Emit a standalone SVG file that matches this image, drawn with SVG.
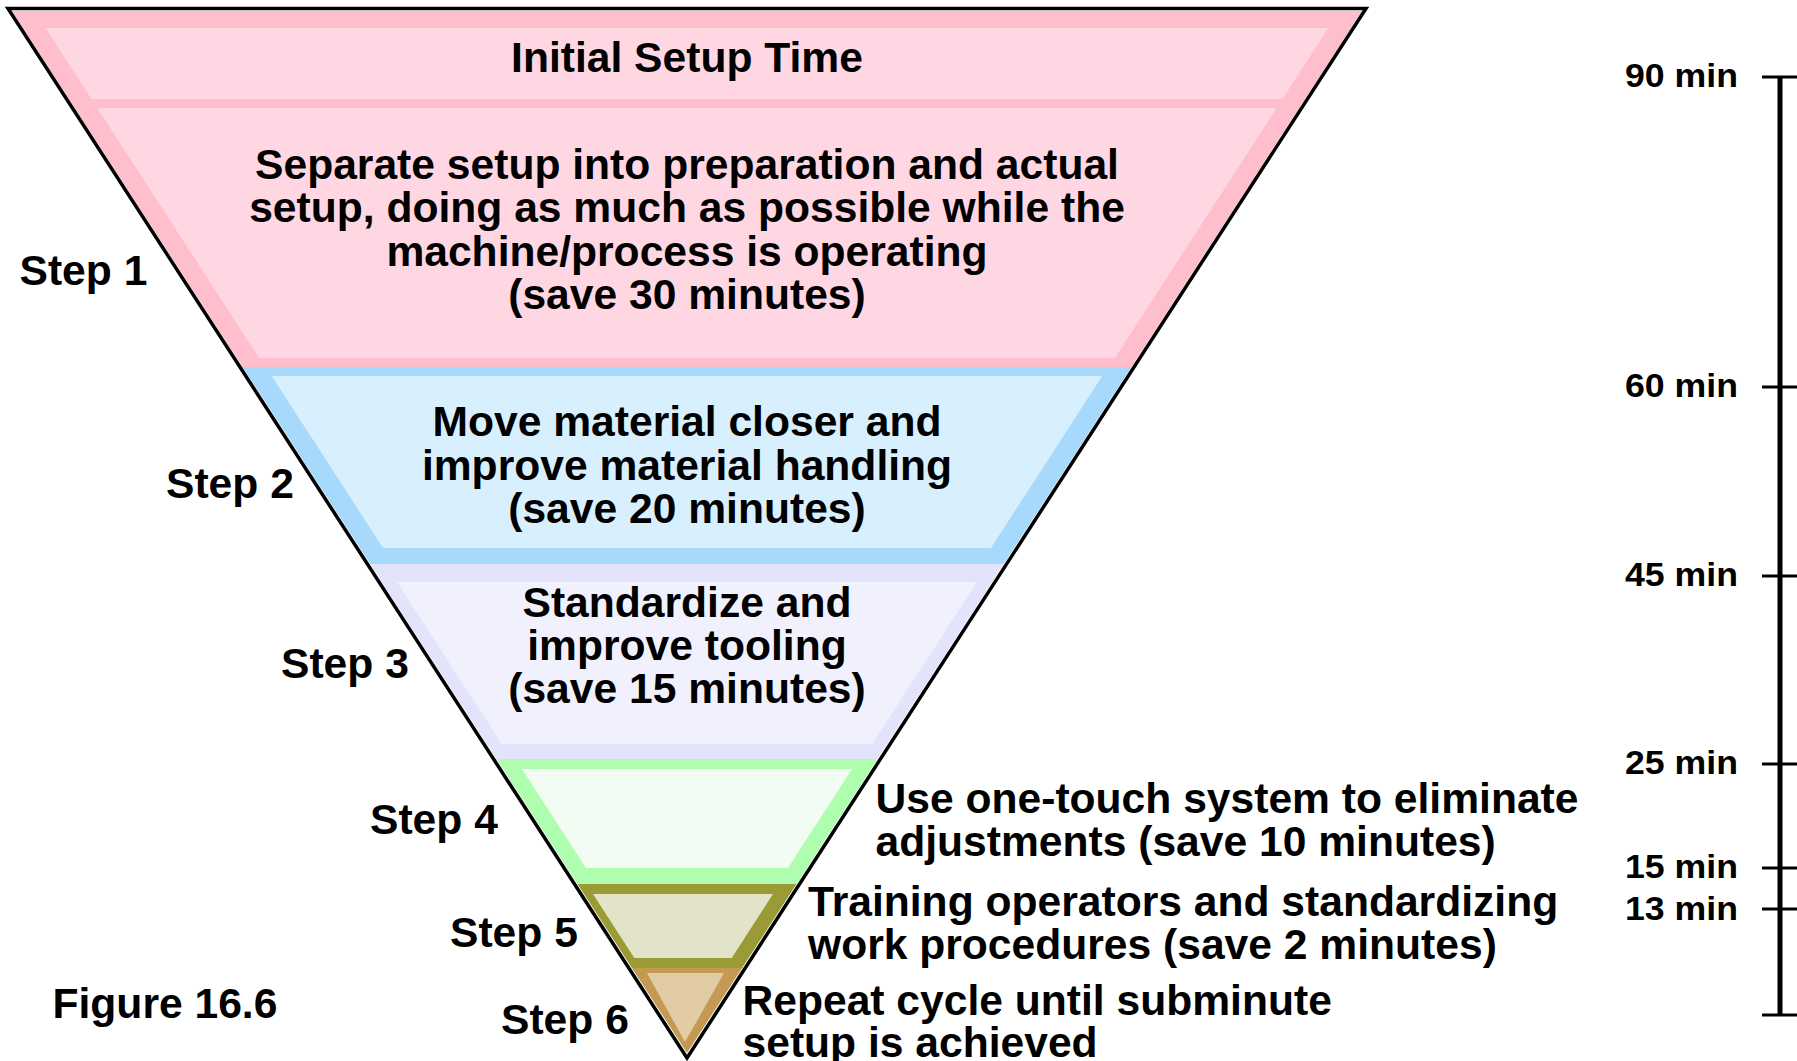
<svg xmlns="http://www.w3.org/2000/svg" width="1797" height="1061" viewBox="0 0 1797 1061">
  <style>
    text { font-family: "Liberation Sans", Arial, Helvetica, sans-serif; font-weight: bold; font-size: 42.6px; fill: #000; }
    .c { text-anchor: middle; }
    .min { font-size: 34px; }
    .tick { stroke: #000; stroke-width: 3; }
  </style>
  <defs>
    <!-- coloured interior of the inverted triangle, just inside the black outline -->
    <clipPath id="funnel">
      <polygon points="12,11 1362,11 687,1053"/>
    </clipPath>
  </defs>

  <rect width="1797" height="1061" fill="#fff"/>

  <!-- outer coloured bands -->
  <g clip-path="url(#funnel)">
    <rect id="band-1-outer" x="0" y="0" width="1400" height="367" fill="#FFBECC"/>
    <rect id="band-2-outer" x="0" y="367" width="1400" height="197" fill="#A6D9FB"/>
    <rect id="band-3-outer" x="0" y="564" width="1400" height="195" fill="#E3E3FB"/>
    <rect id="band-4-outer" x="0" y="759" width="1400" height="125" fill="#AFFDAF"/>
    <rect id="band-5-outer" x="0" y="884" width="1400" height="84" fill="#9B9B35"/>
    <rect id="band-6-outer" x="0" y="968" width="1400" height="100" fill="#C49A52"/>
  </g>

  <!-- Step 1: initial setup + separation -->
  <g id="step1">
    <polygon points="45.6,28 1328.4,28 1282.5,99 91.5,99" fill="#FFD7E3"/>
    <polygon points="97.3,108 1276.7,108 1114.9,358 259.1,358" fill="#FFD7E3"/>
    <text class="c" x="687" y="71.5">Initial Setup Time</text>
    <text class="c" x="687" y="178.5">Separate setup into preparation and actual</text>
    <text class="c" x="687" y="222">setup, doing as much as possible while the</text>
    <text class="c" x="687" y="265.5">machine/process is operating</text>
    <text class="c" x="687" y="309">(save 30 minutes)</text>
    <text x="19.5" y="285">Step 1</text>
  </g>

  <!-- Step 2: material handling -->
  <g id="step2">
    <polygon points="271.7,376 1102.3,376 991,548 383,548" fill="#D8EFFD"/>
    <text class="c" x="687" y="436">Move material closer and</text>
    <text class="c" x="687" y="479.5">improve material handling</text>
    <text class="c" x="687" y="523">(save 20 minutes)</text>
    <text x="166" y="497.5">Step 2</text>
  </g>

  <!-- Step 3: tooling -->
  <g id="step3">
    <polygon points="397,582 977,582 872.2,744 501.8,744" fill="#F1F1FD"/>
    <text class="c" x="687" y="616.5">Standardize and</text>
    <text class="c" x="687" y="660">improve tooling</text>
    <text class="c" x="687" y="703">(save 15 minutes)</text>
    <text x="281" y="677.5">Step 3</text>
  </g>

  <!-- Step 4: one-touch system -->
  <g id="step4">
    <polygon points="522,769 852,769 788,868 586,868" fill="#F2FCF2"/>
    <text x="875.5" y="812.5">Use one-touch system to eliminate</text>
    <text x="875.5" y="856">adjustments (save 10 minutes)</text>
    <text x="370" y="833.5">Step 4</text>
  </g>

  <!-- Step 5: training -->
  <g id="step5">
    <polygon points="593,894 773,894 731.7,958 634.3,958" fill="#E3E3CA"/>
    <text x="808" y="916">Training operators and standardizing</text>
    <text x="808" y="959">work procedures (save 2 minutes)</text>
    <text x="450" y="946.5">Step 5</text>
  </g>

  <!-- Step 6: repeat cycle -->
  <g id="step6">
    <polygon points="647,973 724,973 685,1042" fill="#E2CCA6"/>
    <text x="742.5" y="1015">Repeat cycle until subminute</text>
    <text x="742.5" y="1057">setup is achieved</text>
    <text x="501" y="1033.5">Step 6</text>
  </g>

  <!-- funnel outline -->
  <g id="outline">
    <polygon points="8,8.5 1366,8.5 687,1058" fill="none" stroke="#000" stroke-width="3.5" stroke-linejoin="miter"/>
  </g>

  <text id="caption" x="52.5" y="1017.5">Figure 16.6</text>

  <!-- time scale -->
  <g id="scale">
    <line x1="1780" y1="76" x2="1780" y2="1016" stroke="#000" stroke-width="5"/>
    <line class="tick" x1="1762" y1="77" x2="1797" y2="77"/>
    <line class="tick" x1="1762" y1="387" x2="1797" y2="387"/>
    <line class="tick" x1="1762" y1="576" x2="1797" y2="576"/>
    <line class="tick" x1="1762" y1="764" x2="1797" y2="764"/>
    <line class="tick" x1="1762" y1="868" x2="1797" y2="868"/>
    <line class="tick" x1="1762" y1="909" x2="1797" y2="909"/>
    <line class="tick" x1="1762" y1="1015" x2="1797" y2="1015"/>
    <text class="min" x="1625" y="87" textLength="113" lengthAdjust="spacingAndGlyphs">90 min</text>
    <text class="min" x="1625" y="397" textLength="113" lengthAdjust="spacingAndGlyphs">60 min</text>
    <text class="min" x="1625" y="586" textLength="113" lengthAdjust="spacingAndGlyphs">45 min</text>
    <text class="min" x="1625" y="774" textLength="113" lengthAdjust="spacingAndGlyphs">25 min</text>
    <text class="min" x="1625" y="878" textLength="113" lengthAdjust="spacingAndGlyphs">15 min</text>
    <text class="min" x="1625" y="920" textLength="113" lengthAdjust="spacingAndGlyphs">13 min</text>
  </g>
</svg>
